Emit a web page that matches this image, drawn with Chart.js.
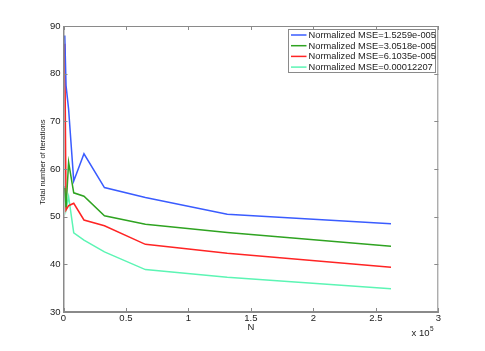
<!DOCTYPE html>
<html>
<head>
<meta charset="utf-8">
<script src="https://cdn.jsdelivr.net/npm/chart.js@4"></script>
<style>
  html, body { margin: 0; padding: 0; background: #fff; }
  #wrap { width: 485px; height: 351px; }
</style>
</head>
<body>
<div id="wrap"><canvas id="c" width="485" height="351"></canvas></div>
<script>
// N values (x axis) and iteration counts per normalized MSE
var nValues   = [1024, 2048, 4096, 8192, 16384, 32768, 65536, 131072, 262144];
var mse1      = [88.0, 77.5, 72.5, 57.5, 63.2, 56.1, 54.0, 50.5, 48.5];
var mse2      = [56.0, 52.0, 61.4, 55.0, 54.3, 50.2, 48.4, 46.7, 43.8];
var mse3      = [86.3, 51.4, 52.3, 52.8, 49.3, 48.1, 44.2, 42.3, 39.4];
var mse4      = [56.4, 51.5, 54.2, 46.6, 45.1, 42.6, 38.9, 37.3, 34.9];
var seriesNames = [
    "Normalized MSE=1.5259e-005",
    "Normalized MSE=3.0518e-005",
    "Normalized MSE=6.1035e-005",
    "Normalized MSE=0.00012207"
];
var seriesColors = ["#3a5cff", "#2fa321", "#ff2424", "#5cf5b4"];
var yTicks = [30, 40, 50, 60, 70, 80, 90];
var xTicks = [0, 50000, 100000, 150000, 200000, 250000, 300000];

var FONT = "'Liberation Sans', Arial, sans-serif";
var AXIS = "#8a8a8a";

function pts(ys) {
    return ys.map(function (v, i) { return { x: nValues[i], y: v }; });
}

var allSeries = [mse1, mse2, mse3, mse4];

var matlabBox = {
    id: "matlabBox",
    afterDraw: function (chart) {
        var ctx = chart.ctx, a = chart.chartArea;
        var sx = chart.scales.x, sy = chart.scales.y;
        ctx.save();
        // box
        ctx.strokeStyle = AXIS;
        ctx.lineWidth = 1;
        ctx.strokeRect(a.left + 0.5, a.top + 0.5, a.right - a.left - 1, a.bottom - a.top - 1);
        // inward ticks
        ctx.beginPath();
        xTicks.forEach(function (t) {
            var px = Math.round(sx.getPixelForValue(t)) + 0.5;
            ctx.moveTo(px, a.bottom); ctx.lineTo(px, a.bottom - 4);
            ctx.moveTo(px, a.top);    ctx.lineTo(px, a.top + 4);
        });
        yTicks.forEach(function (t) {
            var py = Math.round(sy.getPixelForValue(t)) + 0.5;
            ctx.moveTo(a.left, py);  ctx.lineTo(a.left + 4, py);
            ctx.moveTo(a.right, py); ctx.lineTo(a.right - 4, py);
        });
        ctx.stroke();

        // axis labels
        ctx.fillStyle = "#222";
        ctx.font = "9.5px " + FONT;
        ctx.textAlign = "center";
        ctx.textBaseline = "middle";
        ctx.fillText("N", (a.left + a.right) / 2, 327.5);
        ctx.textAlign = "right";
        ctx.textBaseline = "alphabetic";
        ctx.fillText("x 10", 429.5, 336);
        ctx.font = "6.5px " + FONT;
        ctx.textAlign = "left";
        ctx.fillText("5", 430, 331);

        ctx.save();
        ctx.translate(43, 162);
        ctx.rotate(-Math.PI / 2);
        ctx.font = "7.6px " + FONT;
        ctx.textAlign = "center";
        ctx.textBaseline = "middle";
        ctx.fillText("Total number of iterations", 0, 0);
        ctx.restore();

        // legend
        var lx = 288.5, ly = 29.5, lw = 147, lh = 43;
        ctx.fillStyle = "#fff";
        ctx.fillRect(lx, ly, lw, lh);
        ctx.strokeStyle = AXIS;
        ctx.strokeRect(lx, ly, lw, lh);
        ctx.font = "9.3px " + FONT;
        ctx.textAlign = "left";
        ctx.textBaseline = "middle";
        seriesNames.forEach(function (name, i) {
            var yy = 35 + i * 10.7;
            ctx.strokeStyle = seriesColors[i];
            ctx.lineWidth = 1.5;
            ctx.beginPath();
            ctx.moveTo(291, yy); ctx.lineTo(306.5, yy);
            ctx.stroke();
            ctx.fillStyle = "#222";
            ctx.fillText(name, 308.5, yy + 0.5);
        });
        ctx.restore();
    }
};

new Chart(document.getElementById("c").getContext("2d"), {
    type: "line",
    data: {
        datasets: allSeries.map(function (s, k) {
            return {
                label: seriesNames[k],
                data: pts(s),
                borderColor: seriesColors[k],
                borderWidth: 1.5,
                pointRadius: 0,
                tension: 0,
                fill: false
            };
        })
    },
    options: {
        responsive: false,
        animation: false,
        layout: { padding: { left: 0, top: 26, right: 46.7, bottom: 0 } },
        plugins: {
            legend: { display: false },
            tooltip: { enabled: false }
        },
        scales: {
            x: {
                type: "linear",
                min: 0,
                max: 300000,
                afterBuildTicks: function (s) { s.ticks = xTicks.map(function (v) { return { value: v }; }); },
                afterFit: function (s) { s.height = 39; },
                grid: { display: false, drawTicks: false },
                border: { display: true, color: AXIS },
                ticks: {
                    padding: 1,
                    maxRotation: 0,
                    autoSkip: false,
                    color: "#222",
                    font: { family: FONT, size: 9.5 },
                    callback: function (v) { return String(v / 1e5); }
                }
            },
            y: {
                min: 30,
                max: 90,
                afterBuildTicks: function (s) { s.ticks = yTicks.map(function (v) { return { value: v }; }); },
                afterFit: function (s) { s.width = 63.5; },
                grid: { display: false, drawTicks: false },
                border: { display: true, color: AXIS },
                ticks: {
                    padding: 3,
                    autoSkip: false,
                    color: "#222",
                    font: { family: FONT, size: 9.5 }
                }
            }
        }
    },
    plugins: [matlabBox]
});
</script>
</body>
</html>
